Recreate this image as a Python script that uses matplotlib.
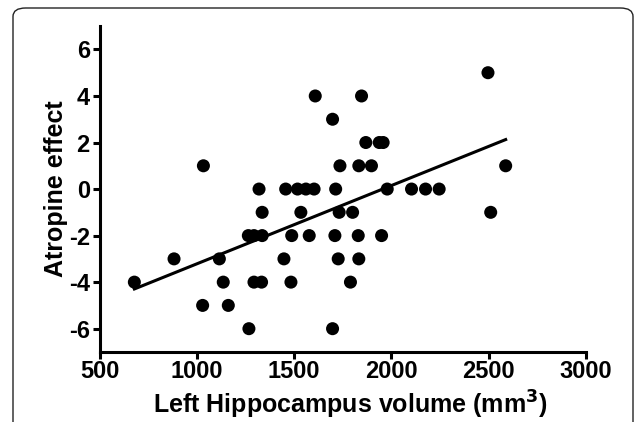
import numpy as np
import matplotlib
matplotlib.use('Agg')
from matplotlib import pyplot as plt
from matplotlib.patches import FancyBboxPatch

# hippocampus volume (mm3) and atropine effect
volume = [2497,
          1609, 1847,
          1698,
          1869, 1938, 1958,
          1034, 1736, 1833, 1898, 2588,
          1320, 1457, 1518, 1561, 1603, 1714, 1979, 2104, 2176, 2246,
          1336, 1535, 1732, 1801, 2511,
          1265, 1294, 1336, 1488, 1578, 1710, 1830, 1950,
          883, 1116, 1448, 1727, 1833,
          679, 1136, 1294, 1333, 1484, 1790,
          1030, 1162,
          1268, 1698]
effect = [5,
          4, 4,
          3,
          2, 2, 2,
          1, 1, 1, 1, 1,
          0, 0, 0, 0, 0, 0, 0, 0, 0, 0,
          -1, -1, -1, -1, -1,
          -2, -2, -2, -2, -2, -2, -2, -2,
          -3, -3, -3, -3, -3,
          -4, -4, -4, -4, -4, -4,
          -5, -5,
          -6, -6]
xticks = [500, 1000, 1500, 2000, 2500, 3000]
yticks = [-6, -4, -2, 0, 2, 4, 6]

plt.rcParams['font.family'] = ['Liberation Sans', 'DejaVu Sans']
plt.rcParams['font.weight'] = 'bold'
plt.rcParams['axes.unicode_minus'] = False

fig = plt.figure(figsize=(6.34, 4.22), dpi=100)
ax = fig.add_axes([0.157, 0.166, 0.767, 0.772])

x = np.array(volume, dtype=float)
y = np.array(effect, dtype=float)
ax.scatter(x, y, s=88, c='black', edgecolors='none', zorder=3)

# linear regression line across the data range
slope, intercept = np.polyfit(x, y, 1)
xl = np.array([x.min(), x.max()])
ax.plot(xl, slope * xl + intercept, c='black', lw=2.2, zorder=2)

ax.set_xlim(500, 3000)
ax.set_ylim(-7, 7)
ax.set_xticks(xticks, labels=[str(v) for v in xticks], fontsize=17, fontweight='bold')
ax.set_yticks(yticks, labels=[str(v) for v in yticks], fontsize=17, fontweight='bold')
for s in ['top', 'right']:
    ax.spines[s].set_visible(False)
for s in ['left', 'bottom']:
    ax.spines[s].set_linewidth(2.2)
ax.tick_params(axis='both', which='major', width=2.2, length=5)
ax.tick_params(axis='x', pad=1)
ax.tick_params(axis='y', pad=2)

ax.set_xlabel('Left Hippocampus volume (mm$^\\mathbf{3}$)', fontsize=18,
              fontweight='bold')
ax.set_ylabel('Atropine effect', fontsize=18, fontweight='bold')
ax.xaxis.set_label_coords(0.515, -0.113)
ax.yaxis.set_label_coords(-0.065, 0.5)

# rounded frame around the figure
frame = FancyBboxPatch((13 / 634, -0.1), 620 / 634, 1.1 - 8 / 422,
                       boxstyle='round,pad=0,rounding_size=0.02',
                       transform=fig.transFigure, fill=False,
                       ec='#222222', lw=1.0, clip_on=False)
fig.patches.append(frame)

fig.savefig('out.png', dpi=100)
